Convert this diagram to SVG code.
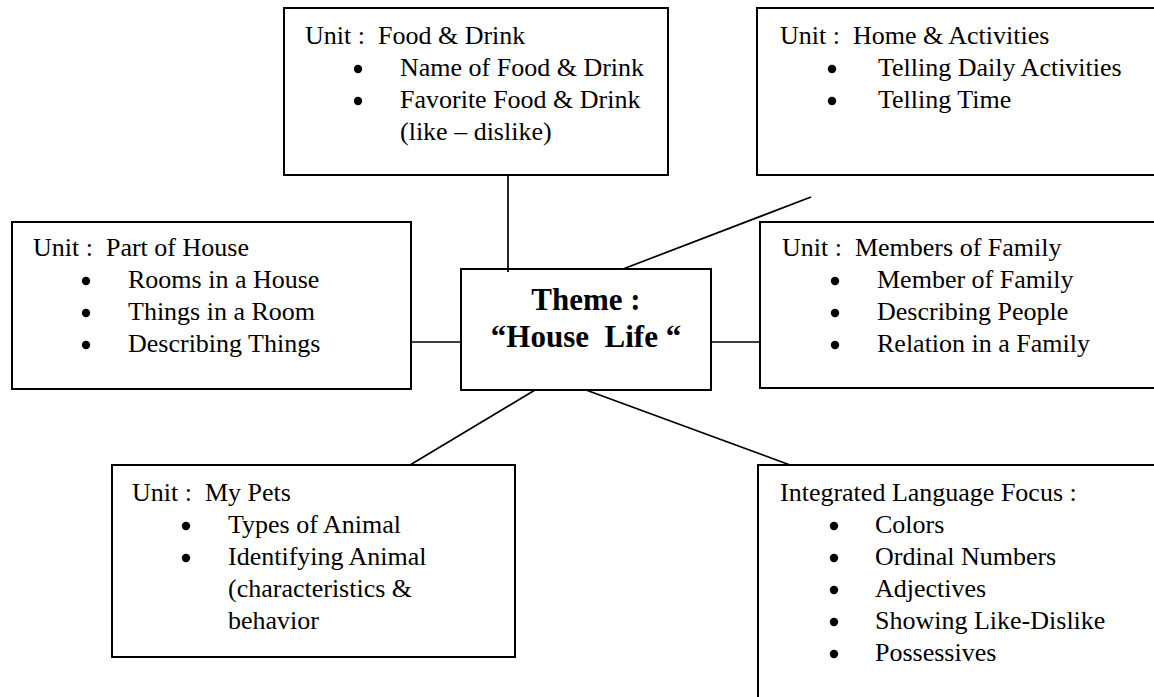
<svg xmlns="http://www.w3.org/2000/svg" width="1154" height="697" viewBox="0 0 1154 697" xml:space="preserve">
<style>
.t { font-family: "Liberation Serif", "Times New Roman", serif; font-size: 26px; fill: #000; white-space: pre; }
.th { font-family: "Liberation Serif", "Times New Roman", serif; font-size: 31px; font-weight: bold; fill: #000; text-anchor: middle; white-space: pre; }
.box { fill: #fff; stroke: #000; stroke-width: 2; }
.ln { stroke: #000; stroke-width: 1.7; fill: none; }
.dot { fill: #000; }
</style>
<defs>
<circle id="b" class="dot" r="4.2" cx="0" cy="0"/>
</defs>
<rect width="1154" height="697" fill="#fff"/>
<g id="food">
<rect class="box" x="284" y="8" width="384" height="167"/>
<text class="t" x="305" y="44">Unit :  Food &amp; Drink</text>
<use href="#b" x="358" y="69"/>
<text class="t" x="400" y="76">Name of Food &amp; Drink</text>
<use href="#b" x="358" y="101"/>
<text class="t" x="400" y="108">Favorite Food &amp; Drink</text>
<text class="t" x="400" y="140">(like – dislike)</text>
</g>
<g id="home">
<rect class="box" x="757" y="8" width="420" height="167"/>
<text class="t" x="780" y="44">Unit :  Home &amp; Activities</text>
<use href="#b" x="832" y="69"/>
<text class="t" x="878" y="76">Telling Daily Activities</text>
<use href="#b" x="832" y="101"/>
<text class="t" x="878" y="108">Telling Time</text>
</g>
<g id="house">
<rect class="box" x="12" y="222" width="399" height="167"/>
<text class="t" x="33" y="256">Unit :  Part of House</text>
<use href="#b" x="86" y="281"/>
<text class="t" x="128" y="288">Rooms in a House</text>
<use href="#b" x="86" y="313"/>
<text class="t" x="128" y="320">Things in a Room</text>
<use href="#b" x="86" y="345"/>
<text class="t" x="128" y="352">Describing Things</text>
</g>
<g id="theme">
<rect class="box" x="461" y="269" width="250" height="121"/>
<text class="th" x="586" y="310">Theme :</text>
<text class="th" x="586" y="347">“House  Life “</text>
</g>
<g id="family">
<rect class="box" x="760" y="222" width="420" height="166"/>
<text class="t" x="782" y="256">Unit :  Members of Family</text>
<use href="#b" x="835" y="281"/>
<text class="t" x="877" y="288">Member of Family</text>
<use href="#b" x="835" y="313"/>
<text class="t" x="877" y="320">Describing People</text>
<use href="#b" x="835" y="345"/>
<text class="t" x="877" y="352">Relation in a Family</text>
</g>
<g id="pets">
<rect class="box" x="112" y="465" width="403" height="192"/>
<text class="t" x="132" y="501">Unit :  My Pets</text>
<use href="#b" x="186" y="526"/>
<text class="t" x="228" y="533">Types of Animal</text>
<use href="#b" x="186" y="558"/>
<text class="t" x="228" y="565">Identifying Animal</text>
<text class="t" x="228" y="597">(characteristics &amp;</text>
<text class="t" x="228" y="629">behavior</text>
</g>
<g id="focus">
<rect class="box" x="758" y="465" width="420" height="250"/>
<text class="t" x="780" y="501">Integrated Language Focus :</text>
<use href="#b" x="834" y="526"/>
<text class="t" x="875" y="533">Colors</text>
<use href="#b" x="834" y="558"/>
<text class="t" x="875" y="565">Ordinal Numbers</text>
<use href="#b" x="834" y="590"/>
<text class="t" x="875" y="597">Adjectives</text>
<use href="#b" x="834" y="622"/>
<text class="t" x="875" y="629">Showing Like-Dislike</text>
<use href="#b" x="834" y="654"/>
<text class="t" x="875" y="661">Possessives</text>
</g>
<g id="connectors">
<line class="ln" x1="508" y1="175" x2="508" y2="272"/>
<line class="ln" x1="623" y1="269" x2="811" y2="197"/>
<line class="ln" x1="411" y1="342" x2="461" y2="342"/>
<line class="ln" x1="711" y1="342" x2="760" y2="342"/>
<line class="ln" x1="535" y1="390" x2="410" y2="465"/>
<line class="ln" x1="586" y1="390" x2="790" y2="465"/>
</g>
</svg>
